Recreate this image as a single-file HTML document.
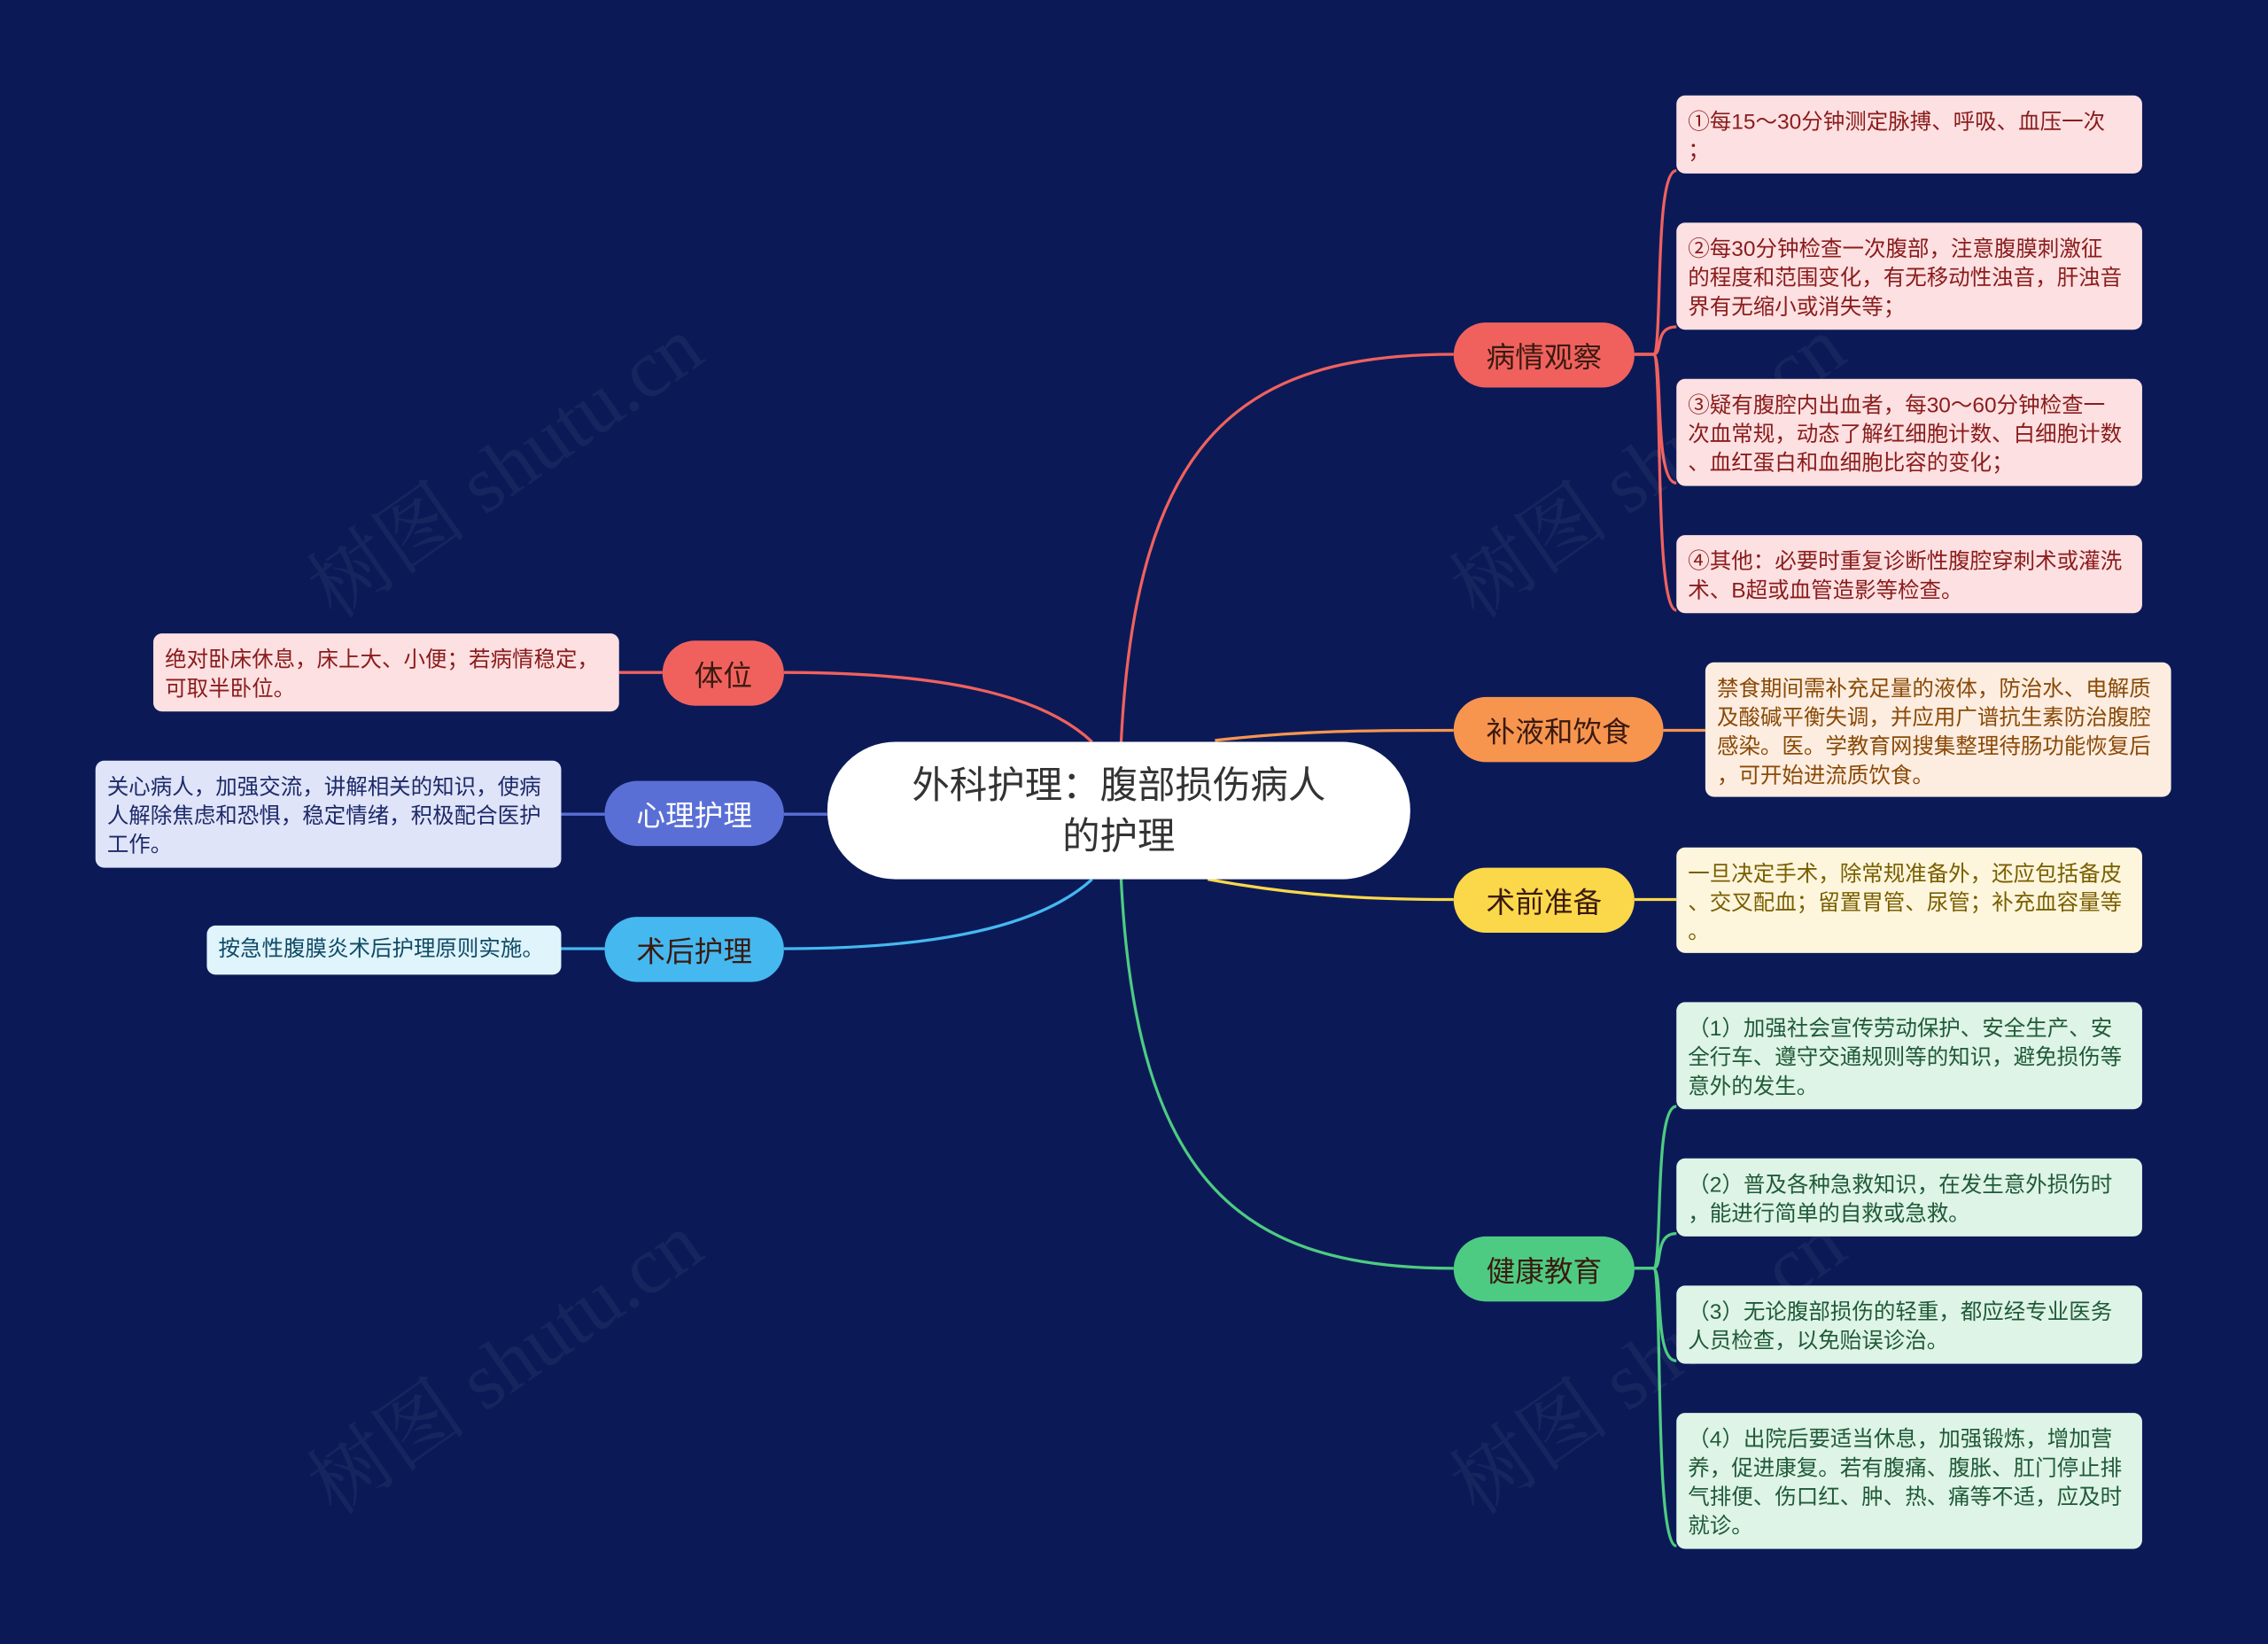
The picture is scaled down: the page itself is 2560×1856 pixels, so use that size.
<!DOCTYPE html>
<html><head><meta charset="utf-8"><style>
html,body{margin:0;padding:0;background:#0b1a57;overflow:hidden}
#w{position:absolute;left:0;top:0;width:1568px;height:1137px;transform:scale(1.63265);transform-origin:0 0;font-family:"Liberation Sans","Noto Sans CJK SC",sans-serif}
.n{position:absolute;border-radius:23px;display:flex;align-items:center;justify-content:center;font-size:20px;color:#3a1a10;box-sizing:border-box}
.l{position:absolute;border-radius:6px;font-size:15px;line-height:20px;padding:9px 8px 6px 8px;box-sizing:border-box;white-space:nowrap}
.r{background:#fde0e1;color:#8a1c1c}
.g{background:#def4e6;color:#1f5a38}
.wm{position:absolute;font-size:56px;color:rgba(255,255,255,0.05);transform:rotate(-35deg);font-family:"Liberation Serif","Noto Serif CJK SC",serif;white-space:nowrap}
</style></head><body><div id="w">
<svg width="1568" height="1137" style="position:absolute;left:0;top:0" fill="none" stroke-width="2">
<path d="M775,515 C785,300 860,245 1005,245" stroke="#f0615e"/>
<path d="M840,512 C900,505 950,505 1005,505" stroke="#f7954f"/>
<path d="M835,608 C900,620 950,622 1005,622" stroke="#fbd84a"/>
<path d="M775,606 C785,820 860,877 1005,877" stroke="#4ecb82"/>
<path d="M755,513 C720,480 650,465 542,465" stroke="#f0615e"/>
<path d="M572,563 L542,563" stroke="#5a6fd6"/>
<path d="M755,608 C720,640 650,656 542,656" stroke="#45b8f0"/>
<g stroke="#f0615e">
<path d="M1130,245 L1143,245 C1150,245 1143,118 1159,118"/>
<path d="M1130,245 L1143,245 C1150,245 1143,226 1159,226"/>
<path d="M1130,245 L1143,245 C1150,245 1143,334 1159,334"/>
<path d="M1130,245 L1143,245 C1150,245 1143,422 1159,422"/>
</g>
<path d="M1150,505 L1179,505" stroke="#f7954f"/>
<path d="M1130,622 L1159,622" stroke="#fbd84a"/>
<g stroke="#4ecb82">
<path d="M1130,877 L1143,877 C1150,877 1143,765 1159,765"/>
<path d="M1130,877 L1143,877 C1150,877 1143,853 1159,853"/>
<path d="M1130,877 L1143,877 C1150,877 1143,941 1159,941"/>
<path d="M1130,877 L1143,877 C1150,877 1143,1069 1159,1069"/>
</g>
<path d="M458,465 L428,465" stroke="#f0615e"/>
<path d="M418,563 L388,563" stroke="#5a6fd6"/>
<path d="M418,656 L388,656" stroke="#45b8f0"/>
</svg>
<div class="wm" style="left:190px;top:280px">树图 shutu.cn</div>
<div class="wm" style="left:980px;top:280px">树图 shutu.cn</div>
<div class="wm" style="left:190px;top:900px">树图 shutu.cn</div>
<div class="wm" style="left:980px;top:900px">树图 shutu.cn</div>

<div class="n" style="left:572px;top:513px;width:403px;height:95px;border-radius:47px;background:#fff;color:#333;font-size:26px;line-height:35px;text-align:center">外科护理：腹部损伤病人<br>的护理</div>
<div class="n" style="left:1005px;top:223px;width:125px;height:45px;background:#f0615e">病情观察</div>
<div class="n" style="left:1005px;top:482px;width:145px;height:45px;background:#f7954f">补液和饮食</div>
<div class="n" style="left:1005px;top:600px;width:125px;height:45px;background:#fbd84a">术前准备</div>
<div class="n" style="left:1005px;top:855px;width:125px;height:45px;background:#4ecb82">健康教育</div>
<div class="n" style="left:458px;top:443px;width:84px;height:45px;background:#f0615e">体位</div>
<div class="n" style="left:418px;top:540px;width:124px;height:45px;background:#5a6fd6;color:#fff">心理护理</div>
<div class="n" style="left:418px;top:634px;width:124px;height:45px;background:#45b8f0">术后护理</div>

<div class="l r" style="left:1159px;top:66px;width:322px;height:54px">①每15～30分钟测定脉搏、呼吸、血压一次<br>；</div>
<div class="l r" style="left:1159px;top:154px;width:322px;height:74px">②每30分钟检查一次腹部，注意腹膜刺激征<br>的程度和范围变化，有无移动性浊音，肝浊音<br>界有无缩小或消失等；</div>
<div class="l r" style="left:1159px;top:262px;width:322px;height:74px">③疑有腹腔内出血者，每30～60分钟检查一<br>次血常规，动态了解红细胞计数、白细胞计数<br>、血红蛋白和血细胞比容的变化；</div>
<div class="l r" style="left:1159px;top:370px;width:322px;height:54px">④其他：必要时重复诊断性腹腔穿刺术或灌洗<br>术、B超或血管造影等检查。</div>
<div class="l" style="left:1179px;top:458px;width:322px;height:93px;background:#fdede0;color:#8a4a08">禁食期间需补充足量的液体，防治水、电解质<br>及酸碱平衡失调，并应用广谱抗生素防治腹腔<br>感染。医。学教育网搜集整理待肠功能恢复后<br>，可开始进流质饮食。</div>
<div class="l" style="left:1159px;top:586px;width:322px;height:73px;background:#fdf6dc;color:#7a5e00">一旦决定手术，除常规准备外，还应包括备皮<br>、交叉配血；留置胃管、尿管；补充血容量等<br>。</div>
<div class="l g" style="left:1159px;top:693px;width:322px;height:74px">（1）加强社会宣传劳动保护、安全生产、安<br>全行车、遵守交通规则等的知识，避免损伤等<br>意外的发生。</div>
<div class="l g" style="left:1159px;top:801px;width:322px;height:54px">（2）普及各种急救知识，在发生意外损伤时<br>，能进行简单的自救或急救。</div>
<div class="l g" style="left:1159px;top:889px;width:322px;height:54px">（3）无论腹部损伤的轻重，都应经专业医务<br>人员检查，以免贻误诊治。</div>
<div class="l g" style="left:1159px;top:977px;width:322px;height:94px">（4）出院后要适当休息，加强锻炼，增加营<br>养，促进康复。若有腹痛、腹胀、肛门停止排<br>气排便、伤口红、肿、热、痛等不适，应及时<br>就诊。</div>
<div class="l r" style="left:106px;top:438px;width:322px;height:54px">绝对卧床休息，床上大、小便；若病情稳定，<br>可取半卧位。</div>
<div class="l" style="left:66px;top:526px;width:322px;height:74px;background:#e0e4f8;color:#1c2a6a">关心病人，加强交流，讲解相关的知识，使病<br>人解除焦虑和恐惧，稳定情绪，积极配合医护<br>工作。</div>
<div class="l" style="left:143px;top:640px;width:245px;height:34px;background:#dff4fb;color:#0f4a66;padding-top:7px">按急性腹膜炎术后护理原则实施。</div>
</div></body></html>
